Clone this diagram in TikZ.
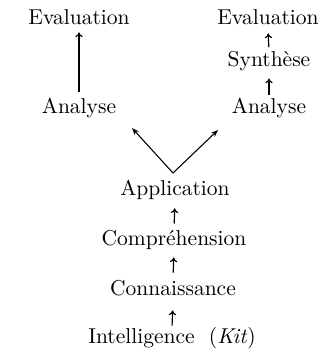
\documentclass[tikz,border=0pt]{standalone}
\usetikzlibrary{arrows.meta}
\tikzset{
  lbl/.style={inner sep=0pt, anchor=base, text height=7pt, text depth=2pt},
  uparr/.style={line width=0.55pt, -{To[length=2.2pt,width=3.4pt]}},
  gap/.style 2 args={shorten <=#1, shorten >=#2},
  diagarr/.style={line width=0.5pt, -{Stealth[length=3.4pt,width=2.6pt]}}
}
\begin{document}
\begin{tikzpicture}[x=0.465pt, y=-0.465pt]
  \useasboundingbox (0,0) rectangle (331,355);

  % left branch
  \node[lbl] (evalL) at (79,24) {Evaluation};
  \node[lbl] (anaL)  at (79,113) {Analyse};

  % right branch
  \node[lbl] (evalR) at (268,24) {Evaluation};
  \node[lbl] (synth) at (269,66) {Synthèse};
  \node[lbl] (anaR)  at (269,113) {Analyse};

  % central column
  \node[lbl] (appl)  at (175,195) {Application};
  \node[lbl] (compr) at (174,245) {Compréhension};
  \node[lbl] (conn)  at (173,295) {Connaissance};
  \node[lbl] (intel) at (172,343) {Intelligence\ \ (\textit{Kit})};

  % fork above Application
  \coordinate (fork) at (173,173);
  \coordinate (tipL) at (132,128);
  \coordinate (tipR) at (218,130);

  \draw[uparr, gap={2.8pt}{1.7pt}] (anaL.north) -- (evalL.south);
  \draw[uparr, gap={1.6pt}{2.2pt}] (synth.north) -- (evalR.south);
  \draw[uparr, gap={1.4pt}{3.6pt}] (anaR.north) -- (synth.south);
  \draw[diagarr] (fork) -- (tipL);
  \draw[diagarr] (fork) -- (tipR);
  \draw[uparr, gap={2.8pt}{4pt}] (compr.north) -- (appl.south);
  \draw[uparr, gap={3.2pt}{3.6pt}] (conn.north) -- (compr.south);
  \draw[uparr, gap={0.9pt}{5pt}] (intel.north) -- (conn.south);
\end{tikzpicture}
\end{document}
